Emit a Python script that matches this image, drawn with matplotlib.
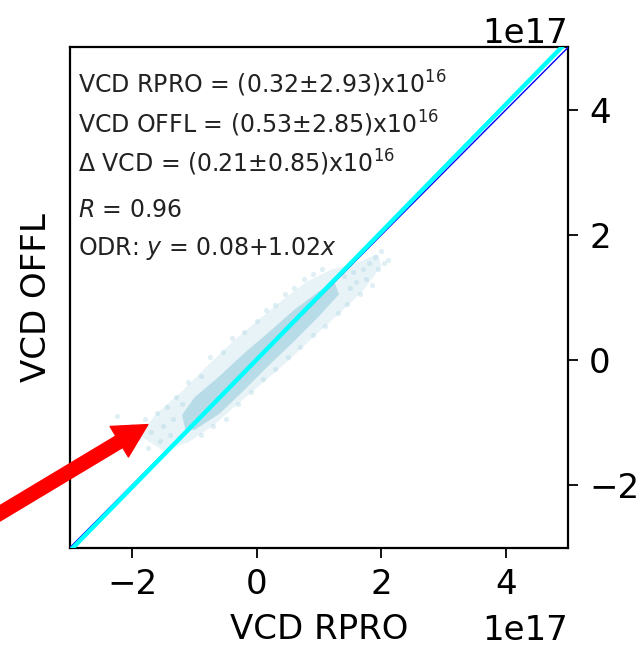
"""Scatter of VCD RPRO vs VCD OFFL with ODR fit and statistics box."""
import matplotlib

matplotlib.use("Agg")
import matplotlib.pyplot as plt  # noqa: E402
from matplotlib.patches import FancyArrowPatch  # noqa: E402
import numpy as np  # noqa: E402

SCALE = 1e17

# Dense core of the point cloud: upper edge (left->right), lower edge (right->left).
core_upper_x = [-1.20, -1.00, -0.60, -0.20, 0.20, 0.60, 1.00, 1.25]
core_upper_y = [-0.88, -0.60, -0.26, 0.11, 0.45, 0.80, 1.10, 1.24]
core_lower_x = [1.32, 1.00, 0.60, 0.20, -0.20, -0.60, -1.00, -1.15]
core_lower_y = [1.05, 0.70, 0.30, -0.08, -0.48, -0.86, -1.12, -1.10]

# Fainter halo around the core.
halo_upper_x = [-1.90, -1.60, -1.20, -0.80, -0.40, 0.00, 0.40, 0.80, 1.20, 1.60, 1.95]
halo_upper_y = [-1.20, -0.85, -0.50, -0.10, 0.28, 0.62, 0.95, 1.25, 1.45, 1.55, 1.70]
halo_lower_x = [2.00, 1.70, 1.30, 0.90, 0.50, 0.10, -0.30, -0.70, -1.10, -1.50]
halo_lower_y = [1.50, 1.10, 0.72, 0.36, -0.02, -0.36, -0.70, -1.05, -1.32, -1.45]

# Individual points (units of 1e17 molec/cm2).
rpro_pts = [-2.25, -2.00, -1.90, -1.80, -1.75, -1.70, -1.60, -1.55, -1.50, -1.45,
            -1.40, -1.35, -1.30, -1.25, -1.20,
            -1.10, -0.90, -0.75, -0.55, -0.40, -0.20, 0.00, 0.15, 0.30, 0.45,
            0.60, 0.75, 0.90, 1.05,
            -0.90, -0.70, -0.50, -0.30, -0.10, 0.10, 0.30, 0.50, 0.70, 0.90,
            1.10, 1.30, 1.45,
            1.40, 1.50, 1.55, 1.60, 1.65, 1.70, 1.75, 1.80, 1.85, 1.90,
            1.95, 2.00, 2.05, 2.10]
offl_pts = [-0.90, -1.05, -1.25, -0.95, -1.40, -1.15, -0.85, -1.30, -1.05, -0.75,
            -1.20, -0.95, -0.60, -1.25, -0.70,
            -0.35, -0.25, 0.05, 0.12, 0.35, 0.45, 0.62, 0.80, 0.88, 1.05,
            1.15, 1.30, 1.38, 1.45,
            -1.20, -1.05, -0.95, -0.70, -0.52, -0.30, -0.15, 0.05, 0.20, 0.40,
            0.55, 0.75, 0.90,
            1.35, 1.15, 1.40, 1.25, 1.05, 1.45, 1.30, 1.55, 1.20, 1.65,
            1.45, 1.75, 1.55, 1.60]

# Fit statistics (units of 1e16).
stats_lines = [
    r"VCD RPRO = (0.32$\pm$2.93)x10$^{16}$",
    r"VCD OFFL = (0.53$\pm$2.85)x10$^{16}$",
    r"$\Delta$ VCD = (0.21$\pm$0.85)x10$^{16}$",
    r"$R$ = 0.96",
    r"ODR: $y$ = 0.08+1.02$x$",
]
odr_intercept = 0.08e16
odr_slope = 1.02

axis_limits = [-3, 5]
tick_values = [-2, 0, 2, 4]

CLOUD = "#a6d3e2"
CORE = "#acd6e4"
TEXT = "#222222"
BIG = 24.5

fig = plt.figure(figsize=(6.42, 6.48), dpi=100)
ax = fig.add_axes([0.109, 0.155, 0.776, 0.772])

halo_x = np.array(halo_upper_x + halo_lower_x) * SCALE
halo_y = np.array(halo_upper_y + halo_lower_y) * SCALE
ax.fill(halo_x, halo_y, color=CORE, alpha=0.28, linewidth=0, zorder=1)
core_x = np.array(core_upper_x + core_lower_x) * SCALE
core_y = np.array(core_upper_y + core_lower_y) * SCALE
ax.fill(core_x, core_y, color=CORE, alpha=0.8, linewidth=0, zorder=1)
ax.scatter(np.array(rpro_pts) * SCALE, np.array(offl_pts) * SCALE,
           s=14, color=CLOUD, alpha=0.35, linewidths=0, zorder=2)

line_x = np.array(axis_limits) * SCALE
ax.plot(line_x, line_x, color="blue", linewidth=1.0, zorder=3)
ax.plot(line_x, odr_intercept + odr_slope * line_x, color="cyan",
        linewidth=3.2, zorder=4)

ax.set_xlim(axis_limits[0] * SCALE, axis_limits[1] * SCALE)
ax.set_ylim(axis_limits[0] * SCALE, axis_limits[1] * SCALE)
ax.set_xticks(np.array(tick_values) * SCALE)
ax.set_yticks(np.array(tick_values) * SCALE)
ax.yaxis.tick_right()
ax.yaxis.set_label_position("left")
ax.tick_params(labelsize=BIG, length=7, width=1.3, direction="out", pad=8)
ax.yaxis.get_offset_text().set_fontsize(BIG)
ax.xaxis.get_offset_text().set_visible(False)
ax.text(1.0, -0.165, "1e17", transform=ax.transAxes, fontsize=BIG,
        ha="right", va="center")
for spine in ax.spines.values():
    spine.set_linewidth(1.6)

ax.set_xlabel("VCD RPRO", fontsize=BIG, labelpad=8)
ax.set_ylabel("VCD OFFL", fontsize=BIG, labelpad=12)

# Baselines of the statistics lines, in axes fraction.
text_y = [0.909, 0.829, 0.751, 0.661, 0.585]
for txt, ty in zip(stats_lines, text_y):
    ax.text(0.016, ty, txt, transform=ax.transAxes, fontsize=17,
            color=TEXT, va="baseline", ha="left", zorder=5)

arrow = FancyArrowPatch((-0.02, 0.196), (0.234, 0.347), transform=fig.transFigure,
                        arrowstyle="simple,head_length=1.5,head_width=1.6,tail_width=0.6",
                        mutation_scale=16, color="red", zorder=10, clip_on=False)
fig.patches.append(arrow)

fig.savefig("out.png", dpi=100)
plt.close(fig)
